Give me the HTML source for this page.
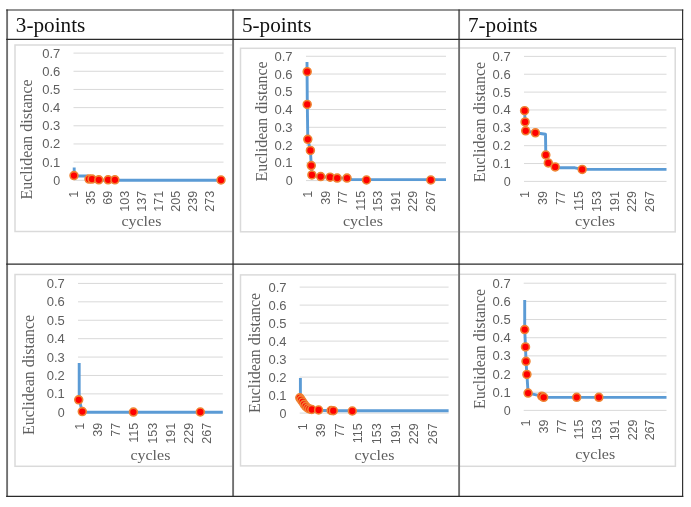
<!DOCTYPE html><html><head><meta charset="utf-8"><style>html,body{margin:0;padding:0;background:#fff;}svg{display:block;will-change:transform;}</style></head><body>
<svg width="691" height="507" viewBox="0 0 691 507">
<rect width="691" height="507" fill="#fff"/>
<defs>
<clipPath id="kc1"><rect x="0" y="0" width="232.3" height="507"/></clipPath>
<clipPath id="kc2"><rect x="0" y="0" width="458.3" height="507"/></clipPath>
<clipPath id="kc3"><rect x="459.8" y="0" width="231.2" height="507"/></clipPath>
<clipPath id="kc4"><rect x="0" y="0" width="232.3" height="507"/></clipPath>
<clipPath id="kc5"><rect x="0" y="0" width="458.3" height="507"/></clipPath>
<clipPath id="kc6"><rect x="459.8" y="0" width="231.2" height="507"/></clipPath>
</defs>
<g clip-path="url(#kc1)">
<rect x="15" y="45" width="225" height="186.5" fill="#fff" stroke="#dadada" stroke-width="1.5"/>
<line x1="73.5" x2="223.5" y1="180.30" y2="180.30" stroke="#d9d9d9" stroke-width="1"/>
<line x1="73.5" x2="223.5" y1="162.13" y2="162.13" stroke="#d9d9d9" stroke-width="1"/>
<line x1="73.5" x2="223.5" y1="143.96" y2="143.96" stroke="#d9d9d9" stroke-width="1"/>
<line x1="73.5" x2="223.5" y1="125.79" y2="125.79" stroke="#d9d9d9" stroke-width="1"/>
<line x1="73.5" x2="223.5" y1="107.62" y2="107.62" stroke="#d9d9d9" stroke-width="1"/>
<line x1="73.5" x2="223.5" y1="89.45" y2="89.45" stroke="#d9d9d9" stroke-width="1"/>
<line x1="73.5" x2="223.5" y1="71.28" y2="71.28" stroke="#d9d9d9" stroke-width="1"/>
<line x1="73.5" x2="223.5" y1="53.11" y2="53.11" stroke="#d9d9d9" stroke-width="1"/>
<text x="60.3" y="184.78" font-family='"Liberation Sans", sans-serif' font-size="12.5" fill="#5f5f5f" text-anchor="end">0</text>
<text x="60.3" y="166.60" font-family='"Liberation Sans", sans-serif' font-size="12.5" fill="#5f5f5f" text-anchor="end" textLength="18.1" lengthAdjust="spacingAndGlyphs">0.1</text>
<text x="60.3" y="148.44" font-family='"Liberation Sans", sans-serif' font-size="12.5" fill="#5f5f5f" text-anchor="end" textLength="18.1" lengthAdjust="spacingAndGlyphs">0.2</text>
<text x="60.3" y="130.27" font-family='"Liberation Sans", sans-serif' font-size="12.5" fill="#5f5f5f" text-anchor="end" textLength="18.1" lengthAdjust="spacingAndGlyphs">0.3</text>
<text x="60.3" y="112.09" font-family='"Liberation Sans", sans-serif' font-size="12.5" fill="#5f5f5f" text-anchor="end" textLength="18.1" lengthAdjust="spacingAndGlyphs">0.4</text>
<text x="60.3" y="93.92" font-family='"Liberation Sans", sans-serif' font-size="12.5" fill="#5f5f5f" text-anchor="end" textLength="18.1" lengthAdjust="spacingAndGlyphs">0.5</text>
<text x="60.3" y="75.75" font-family='"Liberation Sans", sans-serif' font-size="12.5" fill="#5f5f5f" text-anchor="end" textLength="18.1" lengthAdjust="spacingAndGlyphs">0.6</text>
<text x="60.3" y="57.59" font-family='"Liberation Sans", sans-serif' font-size="12.5" fill="#5f5f5f" text-anchor="end" textLength="18.1" lengthAdjust="spacingAndGlyphs">0.7</text>
<text transform="translate(78.47,190.8) rotate(-90)" font-family='"Liberation Sans", sans-serif' font-size="12.5" fill="#5f5f5f" text-anchor="end">1</text>
<text transform="translate(95.38,190.8) rotate(-90)" font-family='"Liberation Sans", sans-serif' font-size="12.5" fill="#5f5f5f" text-anchor="end">35</text>
<text transform="translate(112.27,190.8) rotate(-90)" font-family='"Liberation Sans", sans-serif' font-size="12.5" fill="#5f5f5f" text-anchor="end">69</text>
<text transform="translate(129.17,190.8) rotate(-90)" font-family='"Liberation Sans", sans-serif' font-size="12.5" fill="#5f5f5f" text-anchor="end">103</text>
<text transform="translate(146.07,190.8) rotate(-90)" font-family='"Liberation Sans", sans-serif' font-size="12.5" fill="#5f5f5f" text-anchor="end">137</text>
<text transform="translate(162.97,190.8) rotate(-90)" font-family='"Liberation Sans", sans-serif' font-size="12.5" fill="#5f5f5f" text-anchor="end">171</text>
<text transform="translate(179.87,190.8) rotate(-90)" font-family='"Liberation Sans", sans-serif' font-size="12.5" fill="#5f5f5f" text-anchor="end">205</text>
<text transform="translate(196.77,190.8) rotate(-90)" font-family='"Liberation Sans", sans-serif' font-size="12.5" fill="#5f5f5f" text-anchor="end">239</text>
<text transform="translate(213.67,190.8) rotate(-90)" font-family='"Liberation Sans", sans-serif' font-size="12.5" fill="#5f5f5f" text-anchor="end">273</text>
<text x="141.4" y="225.5" font-family='"Liberation Serif", serif' font-size="15.5" fill="#5f5f5f" text-anchor="middle" textLength="40" lengthAdjust="spacingAndGlyphs">cycles</text>
<text transform="translate(32.0,139.45) rotate(-90)" font-family='"Liberation Serif", serif' font-size="15.8" fill="#5f5f5f" text-anchor="middle" textLength="120.3" lengthAdjust="spacingAndGlyphs">Euclidean distance</text>
<path d="M74.2,167.4 V176 H87.5 V180.2 H222.8" fill="none" stroke="#5b9bd5" stroke-width="2.9" stroke-linejoin="round"/>
<circle cx="74" cy="175.6" r="3.95" fill="#ff0000" stroke="#ef8333" stroke-width="1.6"/>
<circle cx="89" cy="179.1" r="3.95" fill="#ff0000" stroke="#ef8333" stroke-width="1.6"/>
<circle cx="92" cy="179.1" r="3.95" fill="#ff0000" stroke="#ef8333" stroke-width="1.6"/>
<circle cx="98.8" cy="179.8" r="3.95" fill="#ff0000" stroke="#ef8333" stroke-width="1.6"/>
<circle cx="108.1" cy="179.8" r="3.95" fill="#ff0000" stroke="#ef8333" stroke-width="1.6"/>
<circle cx="114.9" cy="179.8" r="3.95" fill="#ff0000" stroke="#ef8333" stroke-width="1.6"/>
<circle cx="221" cy="180" r="3.95" fill="#ff0000" stroke="#ef8333" stroke-width="1.6"/>
</g>
<g clip-path="url(#kc2)">
<rect x="240.5" y="48.3" width="229.5" height="183.5" fill="#fff" stroke="#dadada" stroke-width="1.5"/>
<line x1="306" x2="446" y1="180.60" y2="180.60" stroke="#d9d9d9" stroke-width="1"/>
<line x1="306" x2="446" y1="162.84" y2="162.84" stroke="#d9d9d9" stroke-width="1"/>
<line x1="306" x2="446" y1="145.08" y2="145.08" stroke="#d9d9d9" stroke-width="1"/>
<line x1="306" x2="446" y1="127.32" y2="127.32" stroke="#d9d9d9" stroke-width="1"/>
<line x1="306" x2="446" y1="109.56" y2="109.56" stroke="#d9d9d9" stroke-width="1"/>
<line x1="306" x2="446" y1="91.80" y2="91.80" stroke="#d9d9d9" stroke-width="1"/>
<line x1="306" x2="446" y1="74.04" y2="74.04" stroke="#d9d9d9" stroke-width="1"/>
<line x1="306" x2="446" y1="56.28" y2="56.28" stroke="#d9d9d9" stroke-width="1"/>
<text x="292.6" y="185.07" font-family='"Liberation Sans", sans-serif' font-size="12.5" fill="#5f5f5f" text-anchor="end">0</text>
<text x="292.6" y="167.31" font-family='"Liberation Sans", sans-serif' font-size="12.5" fill="#5f5f5f" text-anchor="end" textLength="18.1" lengthAdjust="spacingAndGlyphs">0.1</text>
<text x="292.6" y="149.55" font-family='"Liberation Sans", sans-serif' font-size="12.5" fill="#5f5f5f" text-anchor="end" textLength="18.1" lengthAdjust="spacingAndGlyphs">0.2</text>
<text x="292.6" y="131.79" font-family='"Liberation Sans", sans-serif' font-size="12.5" fill="#5f5f5f" text-anchor="end" textLength="18.1" lengthAdjust="spacingAndGlyphs">0.3</text>
<text x="292.6" y="114.03" font-family='"Liberation Sans", sans-serif' font-size="12.5" fill="#5f5f5f" text-anchor="end" textLength="18.1" lengthAdjust="spacingAndGlyphs">0.4</text>
<text x="292.6" y="96.27" font-family='"Liberation Sans", sans-serif' font-size="12.5" fill="#5f5f5f" text-anchor="end" textLength="18.1" lengthAdjust="spacingAndGlyphs">0.5</text>
<text x="292.6" y="78.51" font-family='"Liberation Sans", sans-serif' font-size="12.5" fill="#5f5f5f" text-anchor="end" textLength="18.1" lengthAdjust="spacingAndGlyphs">0.6</text>
<text x="292.6" y="60.75" font-family='"Liberation Sans", sans-serif' font-size="12.5" fill="#5f5f5f" text-anchor="end" textLength="18.1" lengthAdjust="spacingAndGlyphs">0.7</text>
<text transform="translate(312.08,190.8) rotate(-90)" font-family='"Liberation Sans", sans-serif' font-size="12.5" fill="#5f5f5f" text-anchor="end">1</text>
<text transform="translate(329.61,190.8) rotate(-90)" font-family='"Liberation Sans", sans-serif' font-size="12.5" fill="#5f5f5f" text-anchor="end">39</text>
<text transform="translate(347.14,190.8) rotate(-90)" font-family='"Liberation Sans", sans-serif' font-size="12.5" fill="#5f5f5f" text-anchor="end">77</text>
<text transform="translate(364.67,190.8) rotate(-90)" font-family='"Liberation Sans", sans-serif' font-size="12.5" fill="#5f5f5f" text-anchor="end">115</text>
<text transform="translate(382.20,190.8) rotate(-90)" font-family='"Liberation Sans", sans-serif' font-size="12.5" fill="#5f5f5f" text-anchor="end">153</text>
<text transform="translate(399.73,190.8) rotate(-90)" font-family='"Liberation Sans", sans-serif' font-size="12.5" fill="#5f5f5f" text-anchor="end">191</text>
<text transform="translate(417.26,190.8) rotate(-90)" font-family='"Liberation Sans", sans-serif' font-size="12.5" fill="#5f5f5f" text-anchor="end">229</text>
<text transform="translate(434.79,190.8) rotate(-90)" font-family='"Liberation Sans", sans-serif' font-size="12.5" fill="#5f5f5f" text-anchor="end">267</text>
<text x="362.9" y="225.6" font-family='"Liberation Serif", serif' font-size="15.5" fill="#5f5f5f" text-anchor="middle" textLength="40" lengthAdjust="spacingAndGlyphs">cycles</text>
<text transform="translate(267.20000000000005,121.45) rotate(-90)" font-family='"Liberation Serif", serif' font-size="15.8" fill="#5f5f5f" text-anchor="middle" textLength="120.3" lengthAdjust="spacingAndGlyphs">Euclidean distance</text>
<path d="M307,62 L307.3,104.4 L307.8,139.3 L310.4,150.4 L311.3,165.6 L311.9,175 L320.7,176.6 L330.1,177.2 L337.2,178.1 L347,178.1 L352,179.6 L446,179.6" fill="none" stroke="#5b9bd5" stroke-width="2.9" stroke-linejoin="round"/>
<circle cx="307.2" cy="71.7" r="3.95" fill="#ff0000" stroke="#ef8333" stroke-width="1.6"/>
<circle cx="307.2" cy="104.4" r="3.95" fill="#ff0000" stroke="#ef8333" stroke-width="1.6"/>
<circle cx="307.8" cy="139.3" r="3.95" fill="#ff0000" stroke="#ef8333" stroke-width="1.6"/>
<circle cx="310.4" cy="150.4" r="3.95" fill="#ff0000" stroke="#ef8333" stroke-width="1.6"/>
<circle cx="311.3" cy="165.6" r="3.95" fill="#ff0000" stroke="#ef8333" stroke-width="1.6"/>
<circle cx="311.9" cy="174.9" r="3.95" fill="#ff0000" stroke="#ef8333" stroke-width="1.6"/>
<circle cx="320.7" cy="176.6" r="3.95" fill="#ff0000" stroke="#ef8333" stroke-width="1.6"/>
<circle cx="330.1" cy="177.2" r="3.95" fill="#ff0000" stroke="#ef8333" stroke-width="1.6"/>
<circle cx="337.2" cy="178.1" r="3.95" fill="#ff0000" stroke="#ef8333" stroke-width="1.6"/>
<circle cx="347" cy="178.1" r="3.95" fill="#ff0000" stroke="#ef8333" stroke-width="1.6"/>
<circle cx="366.5" cy="180" r="3.95" fill="#ff0000" stroke="#ef8333" stroke-width="1.6"/>
<circle cx="430.8" cy="180" r="3.95" fill="#ff0000" stroke="#ef8333" stroke-width="1.6"/>
</g>
<g clip-path="url(#kc3)">
<rect x="450" y="48" width="225.20000000000005" height="183.9" fill="#fff" stroke="#dadada" stroke-width="1.5"/>
<line x1="524" x2="666.5" y1="181.40" y2="181.40" stroke="#d9d9d9" stroke-width="1"/>
<line x1="524" x2="666.5" y1="163.54" y2="163.54" stroke="#d9d9d9" stroke-width="1"/>
<line x1="524" x2="666.5" y1="145.68" y2="145.68" stroke="#d9d9d9" stroke-width="1"/>
<line x1="524" x2="666.5" y1="127.82" y2="127.82" stroke="#d9d9d9" stroke-width="1"/>
<line x1="524" x2="666.5" y1="109.96" y2="109.96" stroke="#d9d9d9" stroke-width="1"/>
<line x1="524" x2="666.5" y1="92.10" y2="92.10" stroke="#d9d9d9" stroke-width="1"/>
<line x1="524" x2="666.5" y1="74.24" y2="74.24" stroke="#d9d9d9" stroke-width="1"/>
<line x1="524" x2="666.5" y1="56.38" y2="56.38" stroke="#d9d9d9" stroke-width="1"/>
<text x="510.7" y="185.88" font-family='"Liberation Sans", sans-serif' font-size="12.5" fill="#5f5f5f" text-anchor="end">0</text>
<text x="510.7" y="168.02" font-family='"Liberation Sans", sans-serif' font-size="12.5" fill="#5f5f5f" text-anchor="end" textLength="18.1" lengthAdjust="spacingAndGlyphs">0.1</text>
<text x="510.7" y="150.16" font-family='"Liberation Sans", sans-serif' font-size="12.5" fill="#5f5f5f" text-anchor="end" textLength="18.1" lengthAdjust="spacingAndGlyphs">0.2</text>
<text x="510.7" y="132.30" font-family='"Liberation Sans", sans-serif' font-size="12.5" fill="#5f5f5f" text-anchor="end" textLength="18.1" lengthAdjust="spacingAndGlyphs">0.3</text>
<text x="510.7" y="114.44" font-family='"Liberation Sans", sans-serif' font-size="12.5" fill="#5f5f5f" text-anchor="end" textLength="18.1" lengthAdjust="spacingAndGlyphs">0.4</text>
<text x="510.7" y="96.58" font-family='"Liberation Sans", sans-serif' font-size="12.5" fill="#5f5f5f" text-anchor="end" textLength="18.1" lengthAdjust="spacingAndGlyphs">0.5</text>
<text x="510.7" y="78.72" font-family='"Liberation Sans", sans-serif' font-size="12.5" fill="#5f5f5f" text-anchor="end" textLength="18.1" lengthAdjust="spacingAndGlyphs">0.6</text>
<text x="510.7" y="60.86" font-family='"Liberation Sans", sans-serif' font-size="12.5" fill="#5f5f5f" text-anchor="end" textLength="18.1" lengthAdjust="spacingAndGlyphs">0.7</text>
<text transform="translate(529.27,191.1) rotate(-90)" font-family='"Liberation Sans", sans-serif' font-size="12.5" fill="#5f5f5f" text-anchor="end">1</text>
<text transform="translate(547.12,191.1) rotate(-90)" font-family='"Liberation Sans", sans-serif' font-size="12.5" fill="#5f5f5f" text-anchor="end">39</text>
<text transform="translate(564.98,191.1) rotate(-90)" font-family='"Liberation Sans", sans-serif' font-size="12.5" fill="#5f5f5f" text-anchor="end">77</text>
<text transform="translate(582.82,191.1) rotate(-90)" font-family='"Liberation Sans", sans-serif' font-size="12.5" fill="#5f5f5f" text-anchor="end">115</text>
<text transform="translate(600.67,191.1) rotate(-90)" font-family='"Liberation Sans", sans-serif' font-size="12.5" fill="#5f5f5f" text-anchor="end">153</text>
<text transform="translate(618.52,191.1) rotate(-90)" font-family='"Liberation Sans", sans-serif' font-size="12.5" fill="#5f5f5f" text-anchor="end">191</text>
<text transform="translate(636.38,191.1) rotate(-90)" font-family='"Liberation Sans", sans-serif' font-size="12.5" fill="#5f5f5f" text-anchor="end">229</text>
<text transform="translate(654.23,191.1) rotate(-90)" font-family='"Liberation Sans", sans-serif' font-size="12.5" fill="#5f5f5f" text-anchor="end">267</text>
<text x="595.1" y="225.5" font-family='"Liberation Serif", serif' font-size="15.5" fill="#5f5f5f" text-anchor="middle" textLength="40" lengthAdjust="spacingAndGlyphs">cycles</text>
<text transform="translate(484.6,122.05) rotate(-90)" font-family='"Liberation Serif", serif' font-size="15.8" fill="#5f5f5f" text-anchor="middle" textLength="120.3" lengthAdjust="spacingAndGlyphs">Euclidean distance</text>
<path d="M524.6,110.7 L525.1,121.9 L525.7,130.8 L535.4,132.8 L545.5,134.3 L545.8,155 L548.3,162.9 L555.2,166.9 L558,167.8 L575,167.8 L582.2,169.4 L666.5,169.4" fill="none" stroke="#5b9bd5" stroke-width="2.9" stroke-linejoin="round"/>
<circle cx="524.6" cy="110.7" r="3.95" fill="#ff0000" stroke="#ef8333" stroke-width="1.6"/>
<circle cx="525.1" cy="121.9" r="3.95" fill="#ff0000" stroke="#ef8333" stroke-width="1.6"/>
<circle cx="525.7" cy="130.8" r="3.95" fill="#ff0000" stroke="#ef8333" stroke-width="1.6"/>
<circle cx="535.4" cy="132.8" r="3.95" fill="#ff0000" stroke="#ef8333" stroke-width="1.6"/>
<circle cx="545.8" cy="155" r="3.95" fill="#ff0000" stroke="#ef8333" stroke-width="1.6"/>
<circle cx="548.3" cy="162.9" r="3.95" fill="#ff0000" stroke="#ef8333" stroke-width="1.6"/>
<circle cx="555.2" cy="166.9" r="3.95" fill="#ff0000" stroke="#ef8333" stroke-width="1.6"/>
<circle cx="582.2" cy="169.4" r="3.95" fill="#ff0000" stroke="#ef8333" stroke-width="1.6"/>
</g>
<g clip-path="url(#kc4)">
<rect x="15" y="274.5" width="225" height="191.8" fill="#fff" stroke="#dadada" stroke-width="1.5"/>
<line x1="78" x2="222.8" y1="412.30" y2="412.30" stroke="#d9d9d9" stroke-width="1"/>
<line x1="78" x2="222.8" y1="393.89" y2="393.89" stroke="#d9d9d9" stroke-width="1"/>
<line x1="78" x2="222.8" y1="375.48" y2="375.48" stroke="#d9d9d9" stroke-width="1"/>
<line x1="78" x2="222.8" y1="357.07" y2="357.07" stroke="#d9d9d9" stroke-width="1"/>
<line x1="78" x2="222.8" y1="338.66" y2="338.66" stroke="#d9d9d9" stroke-width="1"/>
<line x1="78" x2="222.8" y1="320.25" y2="320.25" stroke="#d9d9d9" stroke-width="1"/>
<line x1="78" x2="222.8" y1="301.84" y2="301.84" stroke="#d9d9d9" stroke-width="1"/>
<line x1="78" x2="222.8" y1="283.43" y2="283.43" stroke="#d9d9d9" stroke-width="1"/>
<text x="64.8" y="416.78" font-family='"Liberation Sans", sans-serif' font-size="12.5" fill="#5f5f5f" text-anchor="end">0</text>
<text x="64.8" y="398.37" font-family='"Liberation Sans", sans-serif' font-size="12.5" fill="#5f5f5f" text-anchor="end" textLength="18.1" lengthAdjust="spacingAndGlyphs">0.1</text>
<text x="64.8" y="379.96" font-family='"Liberation Sans", sans-serif' font-size="12.5" fill="#5f5f5f" text-anchor="end" textLength="18.1" lengthAdjust="spacingAndGlyphs">0.2</text>
<text x="64.8" y="361.55" font-family='"Liberation Sans", sans-serif' font-size="12.5" fill="#5f5f5f" text-anchor="end" textLength="18.1" lengthAdjust="spacingAndGlyphs">0.3</text>
<text x="64.8" y="343.14" font-family='"Liberation Sans", sans-serif' font-size="12.5" fill="#5f5f5f" text-anchor="end" textLength="18.1" lengthAdjust="spacingAndGlyphs">0.4</text>
<text x="64.8" y="324.73" font-family='"Liberation Sans", sans-serif' font-size="12.5" fill="#5f5f5f" text-anchor="end" textLength="18.1" lengthAdjust="spacingAndGlyphs">0.5</text>
<text x="64.8" y="306.32" font-family='"Liberation Sans", sans-serif' font-size="12.5" fill="#5f5f5f" text-anchor="end" textLength="18.1" lengthAdjust="spacingAndGlyphs">0.6</text>
<text x="64.8" y="287.91" font-family='"Liberation Sans", sans-serif' font-size="12.5" fill="#5f5f5f" text-anchor="end" textLength="18.1" lengthAdjust="spacingAndGlyphs">0.7</text>
<text transform="translate(83.88,422.9) rotate(-90)" font-family='"Liberation Sans", sans-serif' font-size="12.5" fill="#5f5f5f" text-anchor="end">1</text>
<text transform="translate(102.06,422.9) rotate(-90)" font-family='"Liberation Sans", sans-serif' font-size="12.5" fill="#5f5f5f" text-anchor="end">39</text>
<text transform="translate(120.25,422.9) rotate(-90)" font-family='"Liberation Sans", sans-serif' font-size="12.5" fill="#5f5f5f" text-anchor="end">77</text>
<text transform="translate(138.45,422.9) rotate(-90)" font-family='"Liberation Sans", sans-serif' font-size="12.5" fill="#5f5f5f" text-anchor="end">115</text>
<text transform="translate(156.64,422.9) rotate(-90)" font-family='"Liberation Sans", sans-serif' font-size="12.5" fill="#5f5f5f" text-anchor="end">153</text>
<text transform="translate(174.83,422.9) rotate(-90)" font-family='"Liberation Sans", sans-serif' font-size="12.5" fill="#5f5f5f" text-anchor="end">191</text>
<text transform="translate(193.02,422.9) rotate(-90)" font-family='"Liberation Sans", sans-serif' font-size="12.5" fill="#5f5f5f" text-anchor="end">229</text>
<text transform="translate(211.21,422.9) rotate(-90)" font-family='"Liberation Sans", sans-serif' font-size="12.5" fill="#5f5f5f" text-anchor="end">267</text>
<text x="150.4" y="459.5" font-family='"Liberation Serif", serif' font-size="15.5" fill="#5f5f5f" text-anchor="middle" textLength="40" lengthAdjust="spacingAndGlyphs">cycles</text>
<text transform="translate(33.9,374.95) rotate(-90)" font-family='"Liberation Serif", serif' font-size="15.8" fill="#5f5f5f" text-anchor="middle" textLength="120.3" lengthAdjust="spacingAndGlyphs">Euclidean distance</text>
<path d="M79.2,363 L79.2,399.8 L82.3,411.6 L84,412.3 L222.8,412.3" fill="none" stroke="#5b9bd5" stroke-width="2.9" stroke-linejoin="round"/>
<circle cx="78.7" cy="399.8" r="3.95" fill="#ff0000" stroke="#ef8333" stroke-width="1.6"/>
<circle cx="82.3" cy="411.6" r="3.95" fill="#ff0000" stroke="#ef8333" stroke-width="1.6"/>
<circle cx="133.4" cy="412.1" r="3.95" fill="#ff0000" stroke="#ef8333" stroke-width="1.6"/>
<circle cx="200.3" cy="412" r="3.95" fill="#ff0000" stroke="#ef8333" stroke-width="1.6"/>
</g>
<g clip-path="url(#kc5)">
<rect x="240.5" y="274.9" width="229.5" height="191.0" fill="#fff" stroke="#dadada" stroke-width="1.5"/>
<line x1="299.7" x2="448.6" y1="413.10" y2="413.10" stroke="#d9d9d9" stroke-width="1"/>
<line x1="299.7" x2="448.6" y1="395.10" y2="395.10" stroke="#d9d9d9" stroke-width="1"/>
<line x1="299.7" x2="448.6" y1="377.10" y2="377.10" stroke="#d9d9d9" stroke-width="1"/>
<line x1="299.7" x2="448.6" y1="359.10" y2="359.10" stroke="#d9d9d9" stroke-width="1"/>
<line x1="299.7" x2="448.6" y1="341.10" y2="341.10" stroke="#d9d9d9" stroke-width="1"/>
<line x1="299.7" x2="448.6" y1="323.10" y2="323.10" stroke="#d9d9d9" stroke-width="1"/>
<line x1="299.7" x2="448.6" y1="305.10" y2="305.10" stroke="#d9d9d9" stroke-width="1"/>
<line x1="299.7" x2="448.6" y1="287.10" y2="287.10" stroke="#d9d9d9" stroke-width="1"/>
<text x="286.5" y="417.58" font-family='"Liberation Sans", sans-serif' font-size="12.5" fill="#5f5f5f" text-anchor="end">0</text>
<text x="286.5" y="399.58" font-family='"Liberation Sans", sans-serif' font-size="12.5" fill="#5f5f5f" text-anchor="end" textLength="18.1" lengthAdjust="spacingAndGlyphs">0.1</text>
<text x="286.5" y="381.58" font-family='"Liberation Sans", sans-serif' font-size="12.5" fill="#5f5f5f" text-anchor="end" textLength="18.1" lengthAdjust="spacingAndGlyphs">0.2</text>
<text x="286.5" y="363.58" font-family='"Liberation Sans", sans-serif' font-size="12.5" fill="#5f5f5f" text-anchor="end" textLength="18.1" lengthAdjust="spacingAndGlyphs">0.3</text>
<text x="286.5" y="345.58" font-family='"Liberation Sans", sans-serif' font-size="12.5" fill="#5f5f5f" text-anchor="end" textLength="18.1" lengthAdjust="spacingAndGlyphs">0.4</text>
<text x="286.5" y="327.58" font-family='"Liberation Sans", sans-serif' font-size="12.5" fill="#5f5f5f" text-anchor="end" textLength="18.1" lengthAdjust="spacingAndGlyphs">0.5</text>
<text x="286.5" y="309.58" font-family='"Liberation Sans", sans-serif' font-size="12.5" fill="#5f5f5f" text-anchor="end" textLength="18.1" lengthAdjust="spacingAndGlyphs">0.6</text>
<text x="286.5" y="291.58" font-family='"Liberation Sans", sans-serif' font-size="12.5" fill="#5f5f5f" text-anchor="end" textLength="18.1" lengthAdjust="spacingAndGlyphs">0.7</text>
<text transform="translate(306.88,423.3) rotate(-90)" font-family='"Liberation Sans", sans-serif' font-size="12.5" fill="#5f5f5f" text-anchor="end">1</text>
<text transform="translate(325.40,423.3) rotate(-90)" font-family='"Liberation Sans", sans-serif' font-size="12.5" fill="#5f5f5f" text-anchor="end">39</text>
<text transform="translate(343.94,423.3) rotate(-90)" font-family='"Liberation Sans", sans-serif' font-size="12.5" fill="#5f5f5f" text-anchor="end">77</text>
<text transform="translate(362.47,423.3) rotate(-90)" font-family='"Liberation Sans", sans-serif' font-size="12.5" fill="#5f5f5f" text-anchor="end">115</text>
<text transform="translate(381.00,423.3) rotate(-90)" font-family='"Liberation Sans", sans-serif' font-size="12.5" fill="#5f5f5f" text-anchor="end">153</text>
<text transform="translate(399.52,423.3) rotate(-90)" font-family='"Liberation Sans", sans-serif' font-size="12.5" fill="#5f5f5f" text-anchor="end">191</text>
<text transform="translate(418.06,423.3) rotate(-90)" font-family='"Liberation Sans", sans-serif' font-size="12.5" fill="#5f5f5f" text-anchor="end">229</text>
<text transform="translate(436.59,423.3) rotate(-90)" font-family='"Liberation Sans", sans-serif' font-size="12.5" fill="#5f5f5f" text-anchor="end">267</text>
<text x="374.4" y="459.6" font-family='"Liberation Serif", serif' font-size="15.5" fill="#5f5f5f" text-anchor="middle" textLength="40" lengthAdjust="spacingAndGlyphs">cycles</text>
<text transform="translate(260.40000000000003,352.95) rotate(-90)" font-family='"Liberation Serif", serif' font-size="15.8" fill="#5f5f5f" text-anchor="middle" textLength="120.3" lengthAdjust="spacingAndGlyphs">Euclidean distance</text>
<path d="M300.4,378 L300.4,398.5 L302.7,402 L305.8,406.3 L309.5,409 L311.8,409.6 L318.6,410.2 L331,410.8 L448.6,410.8" fill="none" stroke="#5b9bd5" stroke-width="2.9" stroke-linejoin="round"/>
<circle cx="299.8" cy="397.8" r="3.95" fill="#ff0000" stroke="#ef8333" stroke-width="1.6"/>
<circle cx="301.2" cy="399.8" r="3.95" fill="#ff0000" stroke="#ef8333" stroke-width="1.6"/>
<circle cx="302.7" cy="402" r="3.95" fill="#ff0000" stroke="#ef8333" stroke-width="1.6"/>
<circle cx="304.2" cy="404.3" r="3.95" fill="#ff0000" stroke="#ef8333" stroke-width="1.6"/>
<circle cx="305.8" cy="406.3" r="3.95" fill="#ff0000" stroke="#ef8333" stroke-width="1.6"/>
<circle cx="307.6" cy="408" r="3.95" fill="#ff0000" stroke="#ef8333" stroke-width="1.6"/>
<circle cx="309.5" cy="409" r="3.95" fill="#ff0000" stroke="#ef8333" stroke-width="1.6"/>
<circle cx="311.8" cy="409.5" r="3.95" fill="#ff0000" stroke="#ef8333" stroke-width="1.6"/>
<circle cx="318.6" cy="410" r="3.95" fill="#ff0000" stroke="#ef8333" stroke-width="1.6"/>
<circle cx="331.1" cy="410.5" r="3.95" fill="#ff0000" stroke="#ef8333" stroke-width="1.6"/>
<circle cx="333.3" cy="410.7" r="3.95" fill="#ff0000" stroke="#ef8333" stroke-width="1.6"/>
<circle cx="352.3" cy="411" r="3.95" fill="#ff0000" stroke="#ef8333" stroke-width="1.6"/>
</g>
<g clip-path="url(#kc6)">
<rect x="450" y="274.3" width="225.39999999999998" height="192.0" fill="#fff" stroke="#dadada" stroke-width="1.5"/>
<line x1="523.7" x2="666.5" y1="410.40" y2="410.40" stroke="#d9d9d9" stroke-width="1"/>
<line x1="523.7" x2="666.5" y1="392.23" y2="392.23" stroke="#d9d9d9" stroke-width="1"/>
<line x1="523.7" x2="666.5" y1="374.06" y2="374.06" stroke="#d9d9d9" stroke-width="1"/>
<line x1="523.7" x2="666.5" y1="355.89" y2="355.89" stroke="#d9d9d9" stroke-width="1"/>
<line x1="523.7" x2="666.5" y1="337.72" y2="337.72" stroke="#d9d9d9" stroke-width="1"/>
<line x1="523.7" x2="666.5" y1="319.55" y2="319.55" stroke="#d9d9d9" stroke-width="1"/>
<line x1="523.7" x2="666.5" y1="301.38" y2="301.38" stroke="#d9d9d9" stroke-width="1"/>
<line x1="523.7" x2="666.5" y1="283.21" y2="283.21" stroke="#d9d9d9" stroke-width="1"/>
<text x="510.7" y="414.88" font-family='"Liberation Sans", sans-serif' font-size="12.5" fill="#5f5f5f" text-anchor="end">0</text>
<text x="510.7" y="396.70" font-family='"Liberation Sans", sans-serif' font-size="12.5" fill="#5f5f5f" text-anchor="end" textLength="18.1" lengthAdjust="spacingAndGlyphs">0.1</text>
<text x="510.7" y="378.53" font-family='"Liberation Sans", sans-serif' font-size="12.5" fill="#5f5f5f" text-anchor="end" textLength="18.1" lengthAdjust="spacingAndGlyphs">0.2</text>
<text x="510.7" y="360.37" font-family='"Liberation Sans", sans-serif' font-size="12.5" fill="#5f5f5f" text-anchor="end" textLength="18.1" lengthAdjust="spacingAndGlyphs">0.3</text>
<text x="510.7" y="342.19" font-family='"Liberation Sans", sans-serif' font-size="12.5" fill="#5f5f5f" text-anchor="end" textLength="18.1" lengthAdjust="spacingAndGlyphs">0.4</text>
<text x="510.7" y="324.02" font-family='"Liberation Sans", sans-serif' font-size="12.5" fill="#5f5f5f" text-anchor="end" textLength="18.1" lengthAdjust="spacingAndGlyphs">0.5</text>
<text x="510.7" y="305.86" font-family='"Liberation Sans", sans-serif' font-size="12.5" fill="#5f5f5f" text-anchor="end" textLength="18.1" lengthAdjust="spacingAndGlyphs">0.6</text>
<text x="510.7" y="287.69" font-family='"Liberation Sans", sans-serif' font-size="12.5" fill="#5f5f5f" text-anchor="end" textLength="18.1" lengthAdjust="spacingAndGlyphs">0.7</text>
<text transform="translate(529.98,419.5) rotate(-90)" font-family='"Liberation Sans", sans-serif' font-size="12.5" fill="#5f5f5f" text-anchor="end">1</text>
<text transform="translate(547.75,419.5) rotate(-90)" font-family='"Liberation Sans", sans-serif' font-size="12.5" fill="#5f5f5f" text-anchor="end">39</text>
<text transform="translate(565.51,419.5) rotate(-90)" font-family='"Liberation Sans", sans-serif' font-size="12.5" fill="#5f5f5f" text-anchor="end">77</text>
<text transform="translate(583.28,419.5) rotate(-90)" font-family='"Liberation Sans", sans-serif' font-size="12.5" fill="#5f5f5f" text-anchor="end">115</text>
<text transform="translate(601.06,419.5) rotate(-90)" font-family='"Liberation Sans", sans-serif' font-size="12.5" fill="#5f5f5f" text-anchor="end">153</text>
<text transform="translate(618.83,419.5) rotate(-90)" font-family='"Liberation Sans", sans-serif' font-size="12.5" fill="#5f5f5f" text-anchor="end">191</text>
<text transform="translate(636.60,419.5) rotate(-90)" font-family='"Liberation Sans", sans-serif' font-size="12.5" fill="#5f5f5f" text-anchor="end">229</text>
<text transform="translate(654.37,419.5) rotate(-90)" font-family='"Liberation Sans", sans-serif' font-size="12.5" fill="#5f5f5f" text-anchor="end">267</text>
<text x="595.1999999999999" y="459.4" font-family='"Liberation Serif", serif' font-size="15.5" fill="#5f5f5f" text-anchor="middle" textLength="40" lengthAdjust="spacingAndGlyphs">cycles</text>
<text transform="translate(484.6,348.95) rotate(-90)" font-family='"Liberation Serif", serif' font-size="15.8" fill="#5f5f5f" text-anchor="middle" textLength="120.3" lengthAdjust="spacingAndGlyphs">Euclidean distance</text>
<path d="M524.7,300 L524.7,329.6 L525.5,346.9 L526,361.3 L526.9,374.4 L528.1,393.1 L541.8,396.2 L543.7,397.4 L666.5,397.4" fill="none" stroke="#5b9bd5" stroke-width="2.9" stroke-linejoin="round"/>
<circle cx="524.7" cy="329.6" r="3.95" fill="#ff0000" stroke="#ef8333" stroke-width="1.6"/>
<circle cx="525.5" cy="346.9" r="3.95" fill="#ff0000" stroke="#ef8333" stroke-width="1.6"/>
<circle cx="526" cy="361.3" r="3.95" fill="#ff0000" stroke="#ef8333" stroke-width="1.6"/>
<circle cx="526.9" cy="374.4" r="3.95" fill="#ff0000" stroke="#ef8333" stroke-width="1.6"/>
<circle cx="528.1" cy="393.1" r="3.95" fill="#ff0000" stroke="#ef8333" stroke-width="1.6"/>
<circle cx="541.8" cy="396.2" r="3.95" fill="#ff0000" stroke="#ef8333" stroke-width="1.6"/>
<circle cx="543.7" cy="397.3" r="3.95" fill="#ff0000" stroke="#ef8333" stroke-width="1.6"/>
<circle cx="576.7" cy="397.3" r="3.95" fill="#ff0000" stroke="#ef8333" stroke-width="1.6"/>
<circle cx="598.9" cy="397.3" r="3.95" fill="#ff0000" stroke="#ef8333" stroke-width="1.6"/>
</g>
<line x1="7.1" x2="7.1" y1="9.5" y2="497" stroke="#707070" stroke-width="1.9"/>
<line x1="233.1" x2="233.1" y1="9.5" y2="497" stroke="#707070" stroke-width="1.9"/>
<line x1="459.1" x2="459.1" y1="9.5" y2="497" stroke="#707070" stroke-width="1.9"/>
<line x1="682.6" x2="682.6" y1="9.5" y2="497" stroke="#333" stroke-width="1.2"/>
<line x1="6.2" x2="683.3" y1="10" y2="10" stroke="#2a2a2a" stroke-width="1.2"/>
<line x1="6.2" x2="683.3" y1="39.4" y2="39.4" stroke="#2a2a2a" stroke-width="1.2"/>
<line x1="6.2" x2="683.3" y1="264.2" y2="264.2" stroke="#2a2a2a" stroke-width="1.2"/>
<line x1="6.2" x2="683.3" y1="496.3" y2="496.3" stroke="#2a2a2a" stroke-width="1.2"/>
<text x="15.8" y="32.2" font-family='"Liberation Serif", serif' font-size="20" fill="#111" textLength="69.5" lengthAdjust="spacingAndGlyphs">3-points</text>
<text x="241.9" y="32.2" font-family='"Liberation Serif", serif' font-size="20" fill="#111" textLength="69.5" lengthAdjust="spacingAndGlyphs">5-points</text>
<text x="467.9" y="32.2" font-family='"Liberation Serif", serif' font-size="20" fill="#111" textLength="69.5" lengthAdjust="spacingAndGlyphs">7-points</text>
</svg></body></html>
